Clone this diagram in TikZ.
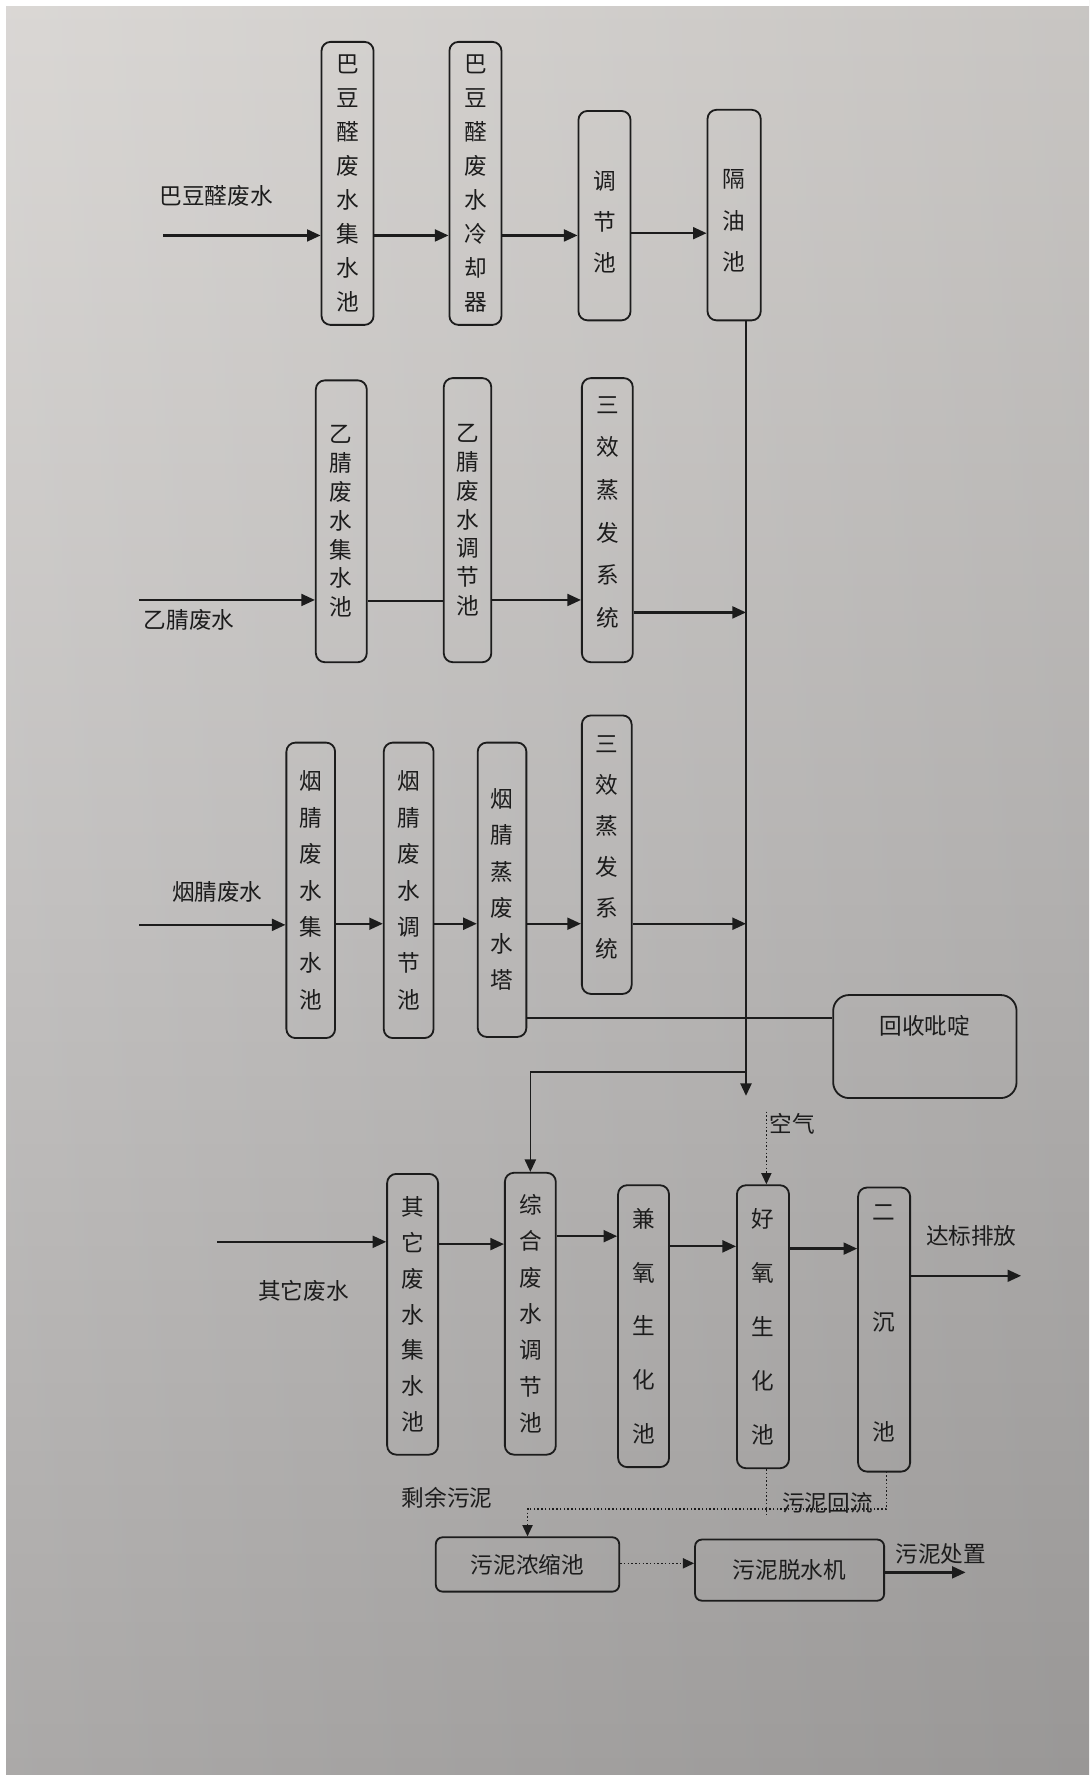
\documentclass[tikz,border=0pt]{standalone}
\usepackage{fontspec}
\setmainfont{Noto Sans CJK SC}
\usetikzlibrary{arrows.meta}
\definecolor{ink}{HTML}{1C1C1C}
\definecolor{papertop}{HTML}{D8D5D2}
\definecolor{papermid}{HTML}{BFBDBC}
\definecolor{paperbot}{HTML}{A5A3A2}
\tikzset{
  box/.style={draw=ink, line width=1.6pt, rounded corners=8pt, inner sep=0pt, align=center, text=ink},
  vt/.style={font=\fontsize{20}{#1}\selectfont},
  lbl/.style={text=ink, font=\fontsize{20}{20}\selectfont, inner sep=0pt},
  flow/.style={draw=ink, line width=2pt, -{Triangle[length=12pt,width=10.5pt]}},
  plain/.style={draw=ink, line width=1.6pt},
  thinflow/.style={draw=ink, line width=1.3pt, -{Triangle[length=11pt,width=10pt]}},
  dotline/.style={draw=ink, line width=1.3pt, dotted},
  dotflow/.style={draw=ink, line width=1.3pt, dotted, -{Triangle[length=10pt,width=9pt]}}
}
\begin{document}
\begin{tikzpicture}[x=1pt,y=-1pt]
\useasboundingbox (0,0) rectangle (962,1568);
\shade[top color=papertop, bottom color=paperbot, middle color=papermid] (0,0) rectangle (962,1568);
\shade[left color=white, right color=black, opacity=0.07] (0,0) rectangle (962,1568);
\fill[white] (0,0) rectangle (5.3,1568);
\fill[white] (0,0) rectangle (962,5.3);

% row 1
\node[box, vt=30, minimum width=46pt, minimum height=250pt] (b1) at (307,162) {巴\\豆\\醛\\废\\水\\集\\水\\池};
\node[box, vt=30, minimum width=46pt, minimum height=250pt] (b2) at (420,162) {巴\\豆\\醛\\废\\水\\冷\\却\\器};
\node[box, minimum width=46pt, minimum height=185pt,
  label={[vt=36, align=center, text=ink, inner sep=0pt, yshift=-5.5pt]center:{调\\节\\池}}] (b3) at (534,190.5) {};
\node[box, minimum width=47pt, minimum height=186pt,
  label={[vt=37, align=center, text=ink, inner sep=0pt, yshift=-5pt]center:{隔\\油\\池}}] (b4) at (648.5,190) {};
\node[lbl] (l1) at (191,173) {巴豆醛废水};
\coordinate (in1) at (144,208);
\draw[flow] (in1) -- (in1 -| b1.west);
\draw[flow] (b1.east |- in1) -- (b2.west |- in1);
\draw[flow] (b2.east |- in1) -- (b3.west |- in1);
\draw[flow] (b3.east |- 0,206) -- (b4.west |- 0,206);

% main collector
\coordinate (mtop) at (659,283);
\coordinate (mbot) at (659,968);
\draw[thinflow] (mtop) -- (mbot);

% row 2
\node[box, vt=25.5, minimum width=45pt, minimum height=249pt] (b5) at (301.5,460.5) {乙\\腈\\废\\水\\集\\水\\池};
\node[box, vt=25.5, minimum width=42pt, minimum height=251pt] (b6) at (413,459.5) {乙\\腈\\废\\水\\调\\节\\池};
\node[box, minimum width=45pt, minimum height=251pt,
  label={[vt=37.6, align=center, text=ink, inner sep=0pt, yshift=7pt]center:{三\\效\\蒸\\发\\系\\统}}] (b7) at (536.5,459.5) {};
\node[lbl] (l2) at (167,548) {乙腈废水};
\coordinate (in2) at (123,530);
\draw[flow] (in2) -- (in2 -| b5.west);
\draw[plain] (b5.east |- 0,531) -- (b6.west |- 0,531);
\draw[flow] (b6.east |- 0,530) -- (b7.west |- 0,530);
\draw[flow] (b7.east |- 0,541) -- (mtop |- 0,541);

% row 3
\node[box, vt=32.2, minimum width=43pt, minimum height=261pt] (b8) at (274.5,786.5) {烟\\腈\\废\\水\\集\\水\\池};
\node[box, vt=32.2, minimum width=44pt, minimum height=261pt] (b9) at (361,786.5) {烟\\腈\\废\\水\\调\\节\\池};
\node[box, vt=32, minimum width=43pt, minimum height=260pt] (b10) at (443.5,786) {烟\\腈\\蒸\\废\\水\\塔};
\node[box, minimum width=44pt, minimum height=246pt,
  label={[vt=36.2, align=center, text=ink, inner sep=0pt, yshift=6pt]center:{三\\效\\蒸\\发\\系\\统}}] (b11) at (536,755) {};
\node[box, rounded corners=14pt, minimum width=162pt, minimum height=91pt, font=\fontsize{20}{20}\selectfont, text height=17pt, text depth=39pt] (rec) at (817,924.5) {回收吡啶};
\node[lbl] (l3) at (192,788) {烟腈废水};
\coordinate (in3) at (123,817);
\draw[flow] (in3) -- (in3 -| b8.west);
\draw[flow] (b8.east |- 0,816) -- (b9.west |- 0,816);
\draw[flow] (b9.east |- 0,816) -- (b10.west |- 0,816);
\draw[flow] (b10.east |- 0,816) -- (b11.west |- 0,816);
\draw[flow] (b11.east |- 0,816) -- (mtop |- 0,816);
\draw[plain] (b10.east |- 0,899) -- (rec.west |- 0,899);

% row 4
\node[box, vt=31.7, minimum width=45pt, minimum height=248pt] (b12) at (364.5,1161) {其\\它\\废\\水\\集\\水\\池};
\node[box, vt=32.2, minimum width=45pt, minimum height=249pt] (b13) at (468.5,1160.5) {综\\合\\废\\水\\调\\节\\池};
\node[box, vt=47.5, minimum width=45pt, minimum height=249pt] (b14) at (568.5,1171.5) {兼\\氧\\生\\化\\池};
\node[box, vt=47.5, minimum width=46pt, minimum height=250pt] (b15) at (674,1172) {好\\氧\\生\\化\\池};
\node[box, minimum width=46pt, minimum height=251pt,
  label={[vt=97.5, align=center, text=ink, inner sep=0pt, yshift=5.5pt]center:{二\\沉\\池}}] (b16) at (781,1174.5) {};
\node[lbl] (l4) at (268,1140) {其它废水};
\node[lbl] (lair) at (700,993) {空气};
\node[lbl] (lout) at (858,1092) {达标排放};
\coordinate (in4) at (192,1097);
\coordinate (out1) at (902,1127);
\coordinate (airtop) at (677,982);
\draw[thinflow] (mtop |- 0,947) -| (b13.north);
\draw[flow] (in4) -- (in4 -| b12.west);
\draw[flow] (b12.east |- 0,1099) -- (b13.west |- 0,1099);
\draw[flow] (b13.east |- 0,1092) -- (b14.west |- 0,1092);
\draw[flow] (b14.east |- 0,1101) -- (b15.west |- 0,1101);
\draw[flow] (b15.east |- 0,1103) -- (b16.west |- 0,1103);
\draw[flow] (b16.east |- out1) -- (out1);
\draw[dotflow] (airtop) -- (airtop |- b15.north);

% sludge
\node[box, rounded corners=6pt, minimum width=162pt, minimum height=48pt, font=\fontsize{20}{20}\selectfont] (thick) at (466,1382) {污泥浓缩池};
\node[box, rounded corners=6pt, minimum width=167pt, minimum height=54pt, font=\fontsize{20}{20}\selectfont] (dewat) at (697.5,1387) {污泥脱水机};
\node[lbl] (l5) at (395,1323) {剩余污泥};
\node[lbl] (l6) at (731,1328) {污泥回流};
\node[lbl] (l7) at (831,1373) {污泥处置};
\coordinate (out2) at (853,1389);
\coordinate (ret) at (783,1300);
\draw[dotline] (b15.south -| airtop) -- (airtop |- 0,1338);
\draw[dotflow] (ret) |- (thick.north |- 0,1333) -- (thick.north);
\draw[dotflow] (thick.east |- 0,1381) -- (dewat.west |- 0,1381);
\draw[flow] (dewat.east |- out2) -- (out2);
\end{tikzpicture}
\end{document}
